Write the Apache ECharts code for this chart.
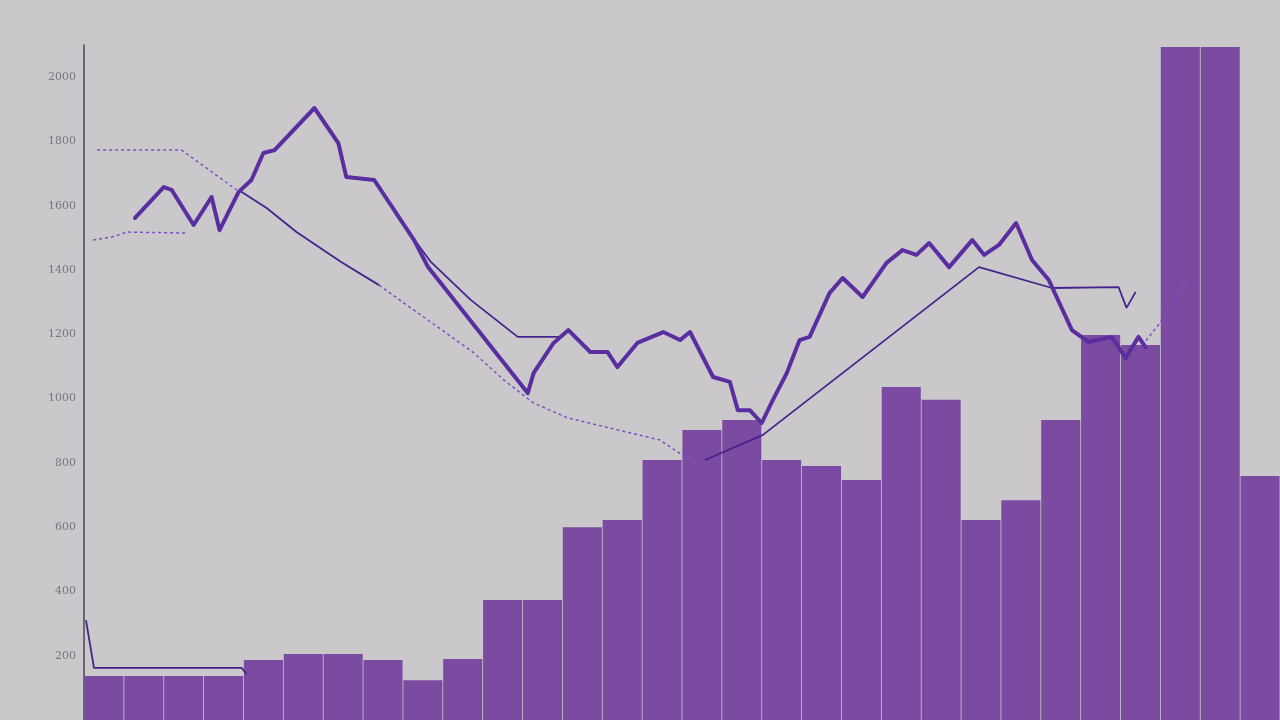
<!DOCTYPE html>
<html>
<head>
<meta charset="utf-8">
<script src="https://cdn.jsdelivr.net/npm/echarts@6/dist/echarts.min.js"></script>
<style>
html,body{margin:0;padding:0;background:#cbc8cc;}
#chart{width:1280px;height:720px;}
</style>
</head>
<body>
<div id="chart"></div>
<script>
// Bar categories (30 periods) and bar values
var categories = [];
for (var c = 1; c <= 30; c++) categories.push('P' + c);
var barValues = [137,137,137,137,187,205,205,187,124,190,373,373,600,622,809,902,933,809,790,747,1036,996,622,684,933,1198,1167,2094,2094,759];

// Thick main line: x positions (period units) and values
var mainX = [1.28,2.0,2.2,2.75,3.2,3.4,3.88,4.2,4.5,4.78,5.78,6.38,6.58,7.28,8.28,8.63,11.13,11.28,11.78,12.15,12.7,13.13,13.38,13.88,14.53,14.95,15.2,15.78,16.2,16.4,16.7,17.0,17.28,17.63,17.95,18.2,18.7,19.03,19.53,20.13,20.53,20.88,21.2,21.7,22.28,22.58,22.95,23.38,23.78,24.2,24.78,25.2,25.78,26.13,26.45,26.63];
var mainY = [1562,1658,1649,1540,1627,1524,1643,1680,1764,1773,1904,1795,1689,1680,1493,1409,1017,1080,1173,1213,1145,1145,1098,1173,1207,1182,1207,1067,1052,964,964,924,996,1080,1182,1192,1328,1375,1316,1422,1462,1447,1484,1409,1493,1447,1478,1546,1431,1369,1213,1176,1192,1126,1192,1160];

// Thin solid line segments (null = break)
var thinX = [0.05,0.25,3.95,4.08,null,3.88,4.58,5.33,6.45,7.4,null,7.83,8.7,9.7,10.88,11.95,null,15.58,17.03,22.45,24.28,25.95,26.15,26.38];
var thinY = [311,162,162,143,null,1649,1593,1518,1425,1353,null,1571,1425,1307,1192,1192,null,809,887,1409,1344,1347,1282,1332];

// Dashed line segments (null = break)
var dashX = [0.23,0.7,1.08,2.58,null,0.33,2.45,3.83,null,7.4,9.78,10.53,11.28,12.13,14.45,15.45,null,26.45,26.95,27.7];
var dashY = [1493,1503,1518,1515,null,1773,1773,1649,null,1353,1142,1058,986,940,871,787,null,1151,1229,1375];

// Y-axis ticks
var yMin = 0, yMax = 2100, yStep = 200;

function pairs(xs, ys) {
  return xs.map(function (x, i) {
    return (x === null || ys[i] === null) ? ['-', '-'] : [x, ys[i]];
  });
}

var chart = echarts.init(document.getElementById('chart'), null, {renderer: 'canvas'});
chart.setOption({
  backgroundColor: '#cbc8cc',
  animation: false,
  grid: {left: 84, right: 0, top: 45, bottom: 0, containLabel: false},
  xAxis: [
    {type: 'category', data: categories, show: false, boundaryGap: true},
    {type: 'value', min: 0, max: 30, show: false}
  ],
  yAxis: {
    type: 'value', min: yMin, max: yMax, interval: yStep,
    axisLine: {show: true, lineStyle: {color: '#4a4458', width: 1.5}},
    axisTick: {show: false},
    splitLine: {show: false},
    axisLabel: {
      color: '#7a7480', fontSize: 11, fontFamily: 'DejaVu Serif', margin: 8,
      showMinLabel: false, showMaxLabel: false,
      formatter: function (v) { return String(v); }
    }
  },
  series: [
    {
      type: 'bar', xAxisIndex: 0, data: barValues,
      barCategoryGap: '2%',
      itemStyle: {color: '#7b4ba1'}
    },
    {
      type: 'line', xAxisIndex: 1, data: pairs(dashX, dashY),
      showSymbol: false, connectNulls: false,
      lineStyle: {color: '#7d4fc4', width: 1.5, type: [3, 3]}
    },
    {
      type: 'line', xAxisIndex: 1, data: pairs(thinX, thinY),
      showSymbol: false, connectNulls: false,
      lineStyle: {color: '#46238c', width: 1.8}
    },
    {
      type: 'line', xAxisIndex: 1, data: pairs(mainX, mainY),
      showSymbol: false,
      lineStyle: {color: '#5b2ea0', width: 4, join: 'round', cap: 'round'}
    }
  ]
});
</script>
</body>
</html>
